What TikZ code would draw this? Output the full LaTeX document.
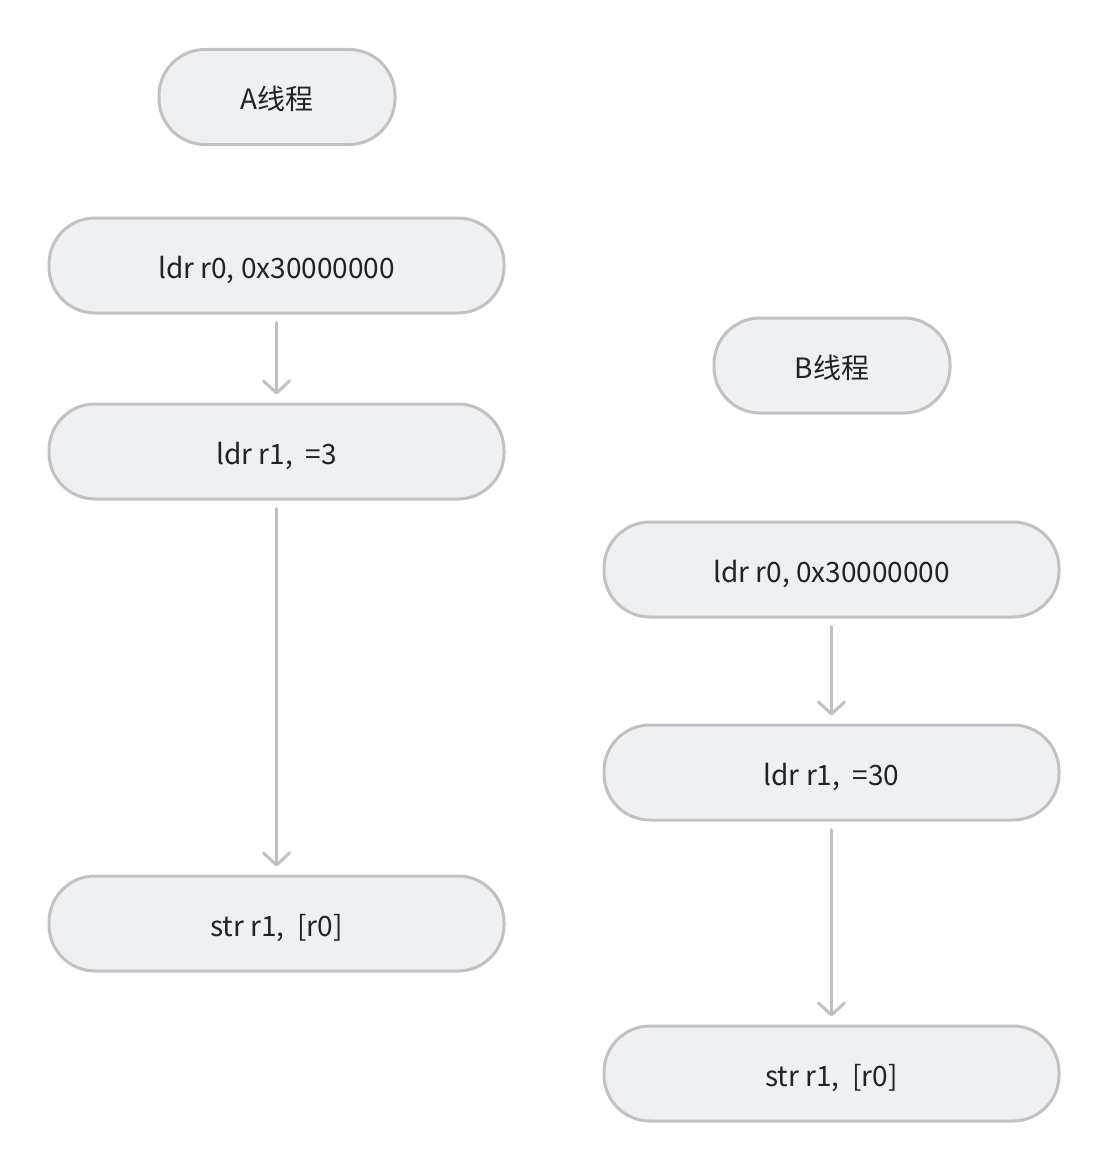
\documentclass[tikz,border=0pt]{standalone}
\usepackage{fontspec}
\setmainfont{Noto Sans CJK SC}
\usetikzlibrary{arrows.meta}
\definecolor{boxfill}{HTML}{EFF0F2}
\definecolor{boxline}{HTML}{BFC1C5}
\definecolor{txt}{HTML}{1F2329}
\tikzset{
  pill/.style={draw=boxline, fill=boxfill, line width=3pt, rounded corners=46pt,
    minimum width=455pt, minimum height=95pt, inner sep=0pt, text=txt,
    text height=25pt, text depth=0pt,
    font=\fontsize{28}{32}\selectfont},
  thread/.style={pill, minimum width=236pt},
  flow/.style={draw=boxline, line width=3pt, line cap=round,
    -{Straight Barb[length=12pt,width=26pt,line cap=round,line join=round]},
    shorten <=8pt, shorten >=8pt}
}
\begin{document}
\begin{tikzpicture}[x=1pt,y=-1pt]
\useasboundingbox (0,0) rectangle (1110,1172);
\node[thread] (ta) at (277,97) {A线程};
\node[pill] (a1) at (276.5,265.5) {ldr r0, 0x30000000};
\node[pill] (a2) at (276.5,451.5) {ldr r1,\ \ =3};
\node[pill] (a3) at (276.5,923.5) {str r1,\ \ [r0]};
\node[thread] (tb) at (832,365.5) {B线程};
\node[pill] (b1) at (831.5,569.5) {ldr r0, 0x30000000};
\node[pill] (b2) at (831.5,772.5) {ldr r1,\ \ =30};
\node[pill] (b3) at (831.5,1073.5) {str r1,\ \ [r0]};
\draw[flow] (a1) -- (a2);
\draw[flow] (a2) -- (a3);
\draw[flow] (b1) -- (b2);
\draw[flow] (b2) -- (b3);
\end{tikzpicture}
\end{document}
